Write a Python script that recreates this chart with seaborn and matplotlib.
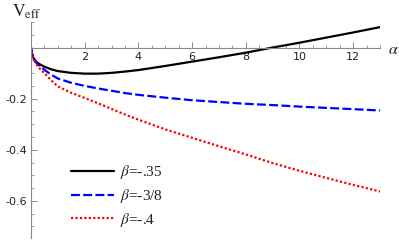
import numpy as np
import pandas as pd
import matplotlib
matplotlib.use("Agg")
import matplotlib.pyplot as plt
from matplotlib.ticker import MultipleLocator, FixedLocator
import seaborn as sns

# values
alpha = [0, 0.05, 0.1, 0.2, 0.35, 0.5, 0.75, 1, 1.5, 2, 2.5, 3, 3.5, 4,
         5, 6, 7, 8, 9, 10, 11, 12, 13]
v_035 = [0, -0.03, -0.042, -0.056, -0.067, -0.075, -0.085, -0.092, -0.099,
         -0.102, -0.102, -0.099, -0.094, -0.088, -0.072, -0.055, -0.038,
         -0.02, 0.0, 0.019, 0.039, 0.059, 0.08]
v_038 = [0, -0.03, -0.043, -0.06, -0.075, -0.087, -0.106, -0.121, -0.138,
         -0.15, -0.16, -0.169, -0.178, -0.185, -0.196, -0.206, -0.213,
         -0.22, -0.225, -0.231, -0.236, -0.241, -0.246]
v_040 = [0, -0.032, -0.046, -0.066, -0.085, -0.1, -0.128, -0.152, -0.177,
         -0.197, -0.218, -0.24, -0.262, -0.282, -0.32, -0.353, -0.386,
         -0.418, -0.452, -0.482, -0.51, -0.537, -0.563]
labels = [r"$\beta$=-.35", r"$\beta$=-3/8", r"$\beta$=-.4"]

sns.set_style("ticks")
plt.rcParams["mathtext.fontset"] = "stix"
plt.rcParams["font.family"] = ["DejaVu Sans"]

fig = plt.figure(figsize=(3.99, 2.41), dpi=100)
ax = fig.add_axes([31 / 399, 3 / 241, 349 / 399, 216 / 241])

styles = [("black", "-"), ("blue", (0, (4, 1.5))), ("red", (0, (1, 1)))]
for vals, lab, (col, ls) in zip([v_035, v_038, v_040], labels, styles):
    df = pd.DataFrame({"alpha": alpha, "V": vals})
    sns.lineplot(data=df, x="alpha", y="V", ax=ax, color=col, linestyle=ls,
                 linewidth=1.6, label=lab)

ax.set_xlim(0, 13)
ax.set_ylim(-0.745, 0.1)
ax.set_xlabel("")
ax.set_ylabel("")

for s in ["top", "right"]:
    ax.spines[s].set_visible(False)
ax.spines["bottom"].set_position(("data", 0))
ax.spines["left"].set_position(("data", 0))
for s in ["bottom", "left"]:
    ax.spines[s].set_color("#8a8a8a")
    ax.spines[s].set_linewidth(0.8)

ax.xaxis.set_ticks_position("bottom")
ax.yaxis.set_ticks_position("left")
ax.xaxis.set_major_locator(FixedLocator([2, 4, 6, 8, 10, 12]))
ax.xaxis.set_minor_locator(MultipleLocator(0.5))
ax.yaxis.set_major_locator(FixedLocator([-0.6, -0.4, -0.2]))
ax.yaxis.set_minor_locator(MultipleLocator(0.05))
ax.set_yticklabels(["-0.6", "-0.4", "-0.2"])
ax.tick_params(axis="both", which="major", direction="in", length=4,
               width=0.7, color="#8a8a8a", labelsize=8, labelcolor="#222222", pad=3)
ax.tick_params(axis="both", which="minor", direction="in", length=2.5,
               width=0.6, color="#8a8a8a")

fig.text(12 / 399, 1 - 12 / 241, r"$\mathrm{V}_{\mathrm{eff}}$", fontsize=12.5,
         va="center", ha="left", color="#222222")
fig.text(388 / 399, 1 - 49 / 241, r"$\alpha$", fontsize=11.5,
         va="center", ha="left", color="#222222")

leg = ax.legend(loc="center left", bbox_to_anchor=(71 / 399, 1 - 196 / 241),
                bbox_transform=fig.transFigure, frameon=False, fontsize=11,
                handlelength=2.8, handletextpad=0.4, labelspacing=0.38,
                borderpad=0, borderaxespad=0)
for t in leg.get_texts():
    t.set_family("Liberation Serif")
    t.set_color("#222222")

fig.savefig("out.png", dpi=100)
